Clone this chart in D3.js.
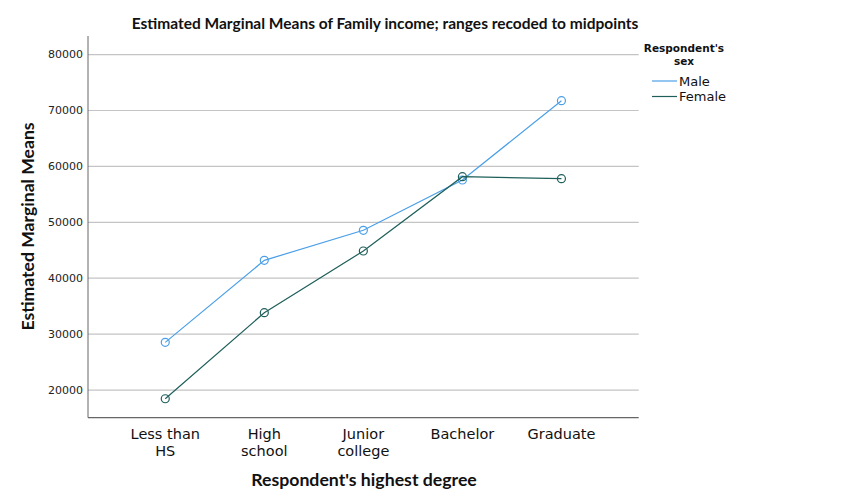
<!DOCTYPE html>
<html><head><meta charset="utf-8">
<script src="https://cdn.jsdelivr.net/npm/d3@7"></script>
<style>body{margin:0;background:#fff}svg{display:block}text{font-family:"DejaVu Sans",Verdana,sans-serif}.b{font-family:Lato,"DejaVu Sans",sans-serif;font-weight:bold}</style>
</head><body>
<svg id="c" width="853" height="503"></svg>
<script>
const categories = [["Less than","HS"],["High","school"],["Junior","college"],["Bachelor"],["Graduate"]];
const categoryKeys = ["Less than HS","High school","Junior college","Bachelor","Graduate"];
const maleValues = [28530, 43200, 48570, 57570, 71760];
const femaleValues = [18440, 33830, 44870, 58160, 57800];
const yTicks = [20000, 30000, 40000, 50000, 60000, 70000, 80000];
const seriesNames = ["Male","Female"];
const seriesColors = ["#4a9fe8","#1e5f5a"];

const svg = d3.select("#c");
const L = 88, R = 638.7, T = 36, B = 417.7;
const x = d3.scalePoint().domain(categoryKeys).range([L, R]).padding(0.78);
const y = d3.scaleLinear().domain([15050, 83330]).range([B, T]);

svg.append("g").selectAll("line").data(yTicks).join("line")
  .attr("x1", L).attr("x2", R).attr("y1", d=>y(d)).attr("y2", d=>y(d))
  .attr("stroke", "#c4c4c4").attr("stroke-width", 1.2);

svg.append("line").attr("x1", L).attr("x2", L).attr("y1", T).attr("y2", B).attr("stroke", "#666").attr("stroke-width",1);
svg.append("line").attr("x1", L).attr("x2", R).attr("y1", B).attr("y2", B).attr("stroke", "#666").attr("stroke-width",1.2);

svg.append("g").selectAll("text").data(yTicks).join("text")
  .attr("x", 83).attr("y", d=>y(d)).attr("dy", "0.35em").attr("text-anchor","end")
  .attr("font-size", 11).attr("fill", "#222").text(d=>d);

svg.append("g").selectAll("g").data(categories).join("g")
  .attr("transform", (d,i)=>`translate(${x(categoryKeys[i])},0)`)
  .each(function(d){
    d3.select(this).selectAll("text").data(d).join("text")
      .attr("x",0).attr("y",(t,j)=>438.5+j*17).attr("text-anchor","middle")
      .attr("font-size", 14.5).attr("fill","#111").text(t=>t);
  });

svg.append("text").attr("class","b").attr("x", 385).attr("y", 29).attr("text-anchor","middle")
  .attr("font-size", 15.5).attr("fill","#111")
  .text("Estimated Marginal Means of Family income; ranges recoded to midpoints");
svg.append("text").attr("class","b").attr("x", 364).attr("y", 486).attr("text-anchor","middle")
  .attr("font-size", 17.7).attr("fill","#111")
  .text("Respondent's highest degree");
svg.append("text").attr("class","b").attr("transform","translate(33.5,226.5) rotate(-90)").attr("text-anchor","middle")
  .attr("font-size", 17.6).attr("fill","#111")
  .text("Estimated Marginal Means");

const series = [maleValues, femaleValues];
const line = d3.line().x((d,i)=>x(categoryKeys[i])).y(d=>y(d));
series.forEach((vals, s)=>{
  svg.append("path").datum(vals).attr("d", line).attr("fill","none")
    .attr("stroke", seriesColors[s]).attr("stroke-width", 1.2);
  svg.append("g").selectAll("circle").data(vals).join("circle")
    .attr("cx", (d,i)=>x(categoryKeys[i])).attr("cy", d=>y(d)).attr("r", 4)
    .attr("fill","none").attr("stroke", seriesColors[s]).attr("stroke-width", 1.2);
});

svg.append("text").attr("x", 684).attr("y", 52).attr("text-anchor","middle")
  .attr("font-size", 10.5).attr("font-weight","bold").attr("fill","#111").text("Respondent's");
svg.append("text").attr("x", 684).attr("y", 64.5).attr("text-anchor","middle")
  .attr("font-size", 10.5).attr("font-weight","bold").attr("fill","#111").text("sex");
const lg = svg.append("g").selectAll("g").data(seriesNames).join("g")
  .attr("transform", (d,i)=>`translate(652,${81+i*15.5})`);
lg.append("line").attr("x1",0).attr("x2",25).attr("stroke",(d,i)=>seriesColors[i]).attr("stroke-width",1.2);
lg.append("text").attr("x",27).attr("dy","0.35em").attr("font-size",13).attr("fill","#111").text(d=>d);
</script>
</body></html>
